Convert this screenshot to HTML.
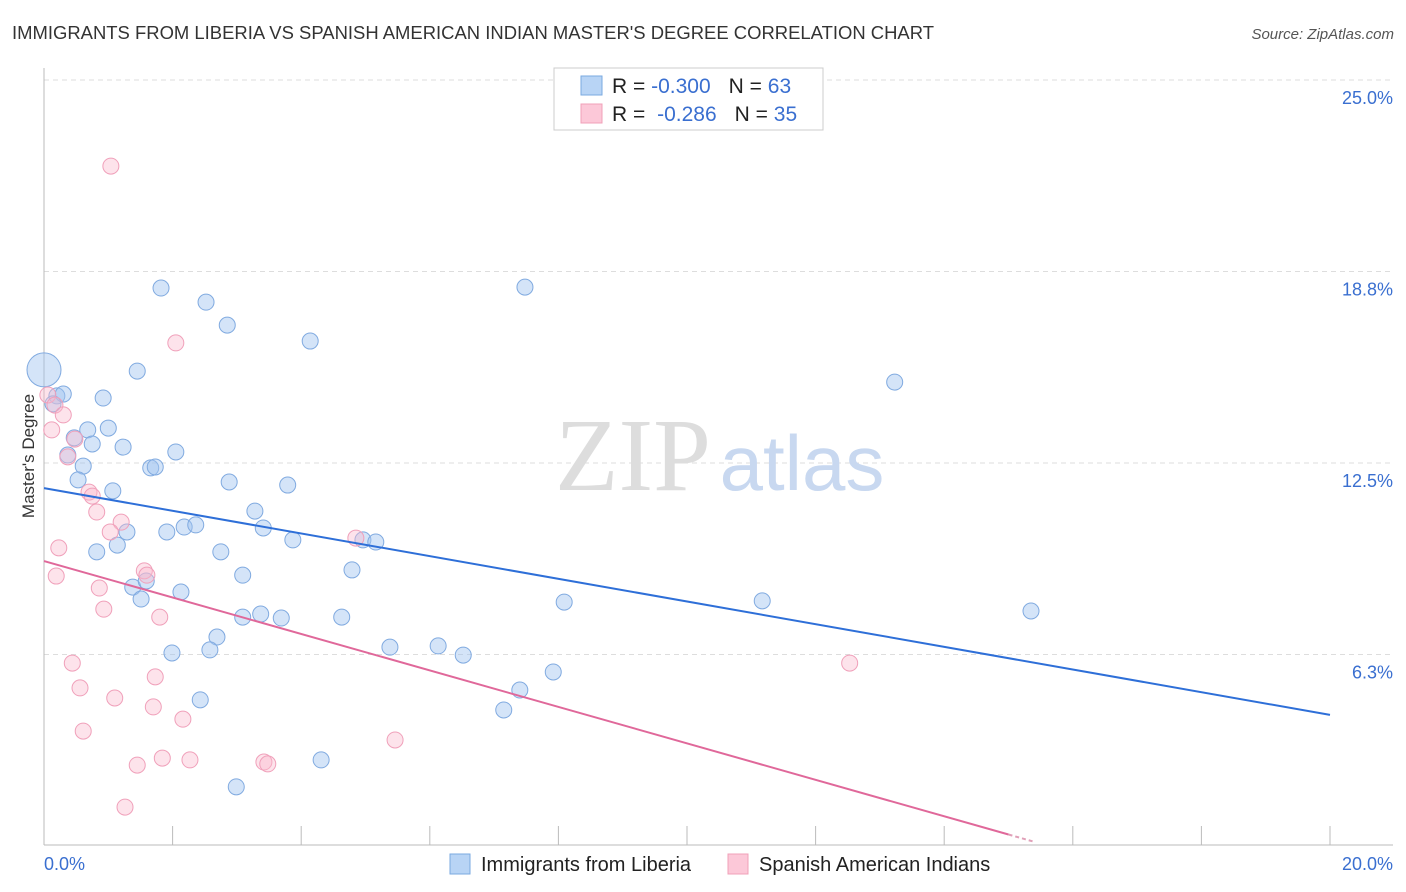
<!DOCTYPE html>
<html><head><meta charset="utf-8"><style>
body{margin:0;background:#fff;font-family:"Liberation Sans",sans-serif}
svg{display:block}
</style></head><body>
<svg id="chart" width="1406" height="892">
<text x="12" y="39" font-size="18" fill="#333" textLength="922" lengthAdjust="spacingAndGlyphs">IMMIGRANTS FROM LIBERIA VS SPANISH AMERICAN INDIAN MASTER'S DEGREE CORRELATION CHART</text>
<text x="1394" y="39" font-size="15" fill="#555" font-style="italic" text-anchor="end">Source: ZipAtlas.com</text>
<text x="34" y="456" font-size="17" fill="#333" text-anchor="middle" transform="rotate(-90 34 456)">Master's Degree</text>
<g id="grid"></g>
<g><text x="633" y="490" font-size="104" fill="#ddd" font-family="Liberation Serif" text-anchor="middle">ZIP</text><text x="802" y="490" font-size="78" fill="#c8d8f0" text-anchor="middle">atlas</text></g>
<line x1="44" y1="68" x2="44" y2="845" stroke="#bbb"/>
<line x1="44" y1="845" x2="1393" y2="845" stroke="#bbb"/>
<g id="ticks"></g>
<g id="pts"></g>
<g id="lines"></g>
<text x="44" y="870" font-size="18" fill="#3a6fd0">0.0%</text>
<text x="1393" y="870" font-size="18" fill="#3a6fd0" text-anchor="end">20.0%</text>
<g>
<rect x="554" y="68" width="269" height="62" fill="#fff" stroke="#ccc"/>
<rect x="581" y="76" width="21" height="19" fill="#b8d4f5" stroke="#7aaae0"/>
<rect x="581" y="104" width="21" height="19" fill="#fcc8d8" stroke="#f0a0b8"/>
<text x="612" y="93" font-size="21" fill="#222">R = <tspan fill="#3a6fd0">-0.300</tspan><tspan dx="18">N = </tspan><tspan fill="#3a6fd0">63</tspan></text>
<text x="612" y="121" font-size="21" fill="#222">R = <tspan fill="#3a6fd0" dx="6">-0.286</tspan><tspan dx="18">N = </tspan><tspan fill="#3a6fd0">35</tspan></text>
</g>
<g>
<rect x="450" y="854" width="20" height="20" fill="#b8d4f5" stroke="#7aaae0"/>
<text x="481" y="871" font-size="20" fill="#222">Immigrants from Liberia</text>
<rect x="728" y="854" width="20" height="20" fill="#fcc8d8" stroke="#f0a0b8"/>
<text x="759" y="871" font-size="20" fill="#222">Spanish American Indians</text>
</g>
</svg>
<script>
const yTicks=[25,18.75,12.5,6.25];
const yTickLabels=["25.0%","18.8%","12.5%","6.3%"];
const xTicks=[0,2,4,6,8,10,12,14,16,18,20];
const blueX=[0.00,0.20,0.30,0.14,0.92,0.47,0.68,1.00,0.75,1.23,0.37,0.61,1.66,1.73,2.05,0.53,1.07,1.82,2.52,2.85,4.14,1.45,7.48,13.23,2.88,3.79,3.28,3.41,3.87,1.91,2.18,2.36,1.29,1.14,0.82,2.75,4.96,5.16,3.09,4.79,1.38,1.59,1.51,2.13,3.09,3.37,3.69,4.63,2.69,1.99,2.58,5.38,6.13,6.52,8.09,11.17,15.35,7.92,7.40,7.15,2.43,4.31,2.99];
const blueY=[15.54,14.69,14.75,14.43,14.62,13.32,13.58,13.64,13.12,13.02,12.76,12.40,12.34,12.37,12.86,11.95,11.59,18.21,17.75,17.00,16.48,15.50,18.24,15.14,11.88,11.78,10.93,10.38,9.99,10.25,10.41,10.48,10.25,9.82,9.60,9.60,9.99,9.92,8.84,9.01,8.45,8.65,8.06,8.29,7.47,7.57,7.44,7.47,6.82,6.30,6.40,6.49,6.53,6.23,7.96,8.00,7.67,5.68,5.09,4.44,4.77,2.81,1.93];
const pinkX=[1.04,2.05,0.06,0.17,0.30,0.12,0.48,0.37,0.70,0.75,0.82,1.20,1.03,0.23,1.56,1.60,0.19,0.86,0.93,1.80,4.85,0.44,1.73,0.56,1.10,1.70,2.16,0.61,1.84,2.27,1.45,3.42,3.48,5.46,1.26,12.53];
const pinkY=[22.19,16.42,14.72,14.39,14.07,13.58,13.28,12.70,11.55,11.42,10.90,10.57,10.25,9.73,8.98,8.84,8.81,8.42,7.73,7.47,10.05,5.97,5.52,5.16,4.83,4.54,4.14,3.75,2.87,2.81,2.64,2.74,2.68,3.46,1.27,5.97];
const blueTrend=[11.68,4.28];
const pinkTrend=[9.30,-0.595];
const pinkSolidEnd=15.0, pinkDashEnd=15.4;

const NS="http://www.w3.org/2000/svg";
const sx=v=>44+v*64.3, sy=v=>846-v*30.64;
function mk(tag,attrs,parent){const e=document.createElementNS(NS,tag);for(const k in attrs)e.setAttribute(k,attrs[k]);parent.appendChild(e);return e;}
const grid=document.getElementById('grid');
yTicks.forEach((t,i)=>{
 const l=mk('line',{x1:44,x2:1393,y1:sy(t),y2:sy(t),stroke:'#ddd','stroke-dasharray':'5,4'},grid);
 
 
 const tx=mk('text',{x:1393,y:sy(t)+24,'font-size':18,fill:'#3a6fd0','text-anchor':'end'},grid);
 tx.textContent=yTickLabels[i];
 
 
});
const ticks=document.getElementById('ticks');
xTicks.forEach(t=>{
 if(t===0)return;
 const l=mk('line',{x1:sx(t),x2:sx(t),y1:826,y2:845,stroke:'#bbb'},ticks);
 
 
});
const pts=document.getElementById('pts');
blueX.forEach((x,i)=>{
 const c=mk('circle',{cx:sx(x),cy:sy(blueY[i]),r:i===0?17:8,fill:'rgba(160,195,240,0.45)',stroke:'#80aae0','stroke-width':1},pts);
 
 
});
pinkX.forEach((x,i)=>{
 const c=mk('circle',{cx:sx(x),cy:sy(pinkY[i]),r:8,fill:'rgba(250,185,205,0.4)',stroke:'#f0a0ba','stroke-width':1},pts);
 
 
});
const lines=document.getElementById('lines');
const bl=mk('line',{x1:sx(0),y1:sy(blueTrend[0]),x2:sx(20),y2:sy(blueTrend[1]),stroke:'#2e6fd8','stroke-width':2},lines);


const pf=x=>pinkTrend[0]+pinkTrend[1]*x;
const pl=mk('line',{x1:sx(0),y1:sy(pf(0)),x2:sx(pinkSolidEnd),y2:sy(pf(pinkSolidEnd)),stroke:'#e0689a','stroke-width':2},lines);


const pd=mk('line',{x1:sx(pinkSolidEnd),y1:sy(pf(pinkSolidEnd)),x2:sx(pinkDashEnd),y2:sy(pf(pinkDashEnd)),stroke:'#e0a0b8','stroke-width':2,'stroke-dasharray':'4,3'},lines);


</script>
</body></html>
